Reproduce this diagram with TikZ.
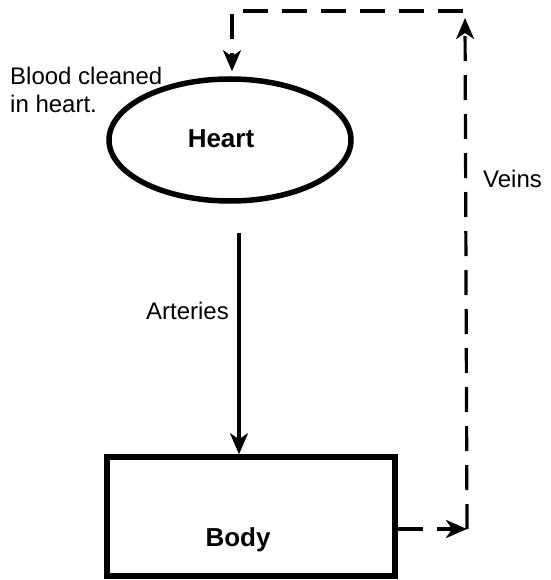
\documentclass[tikz,border=0pt]{standalone}
\usepackage{fontspec}
\setmainfont{Liberation Sans}
\usetikzlibrary{arrows.meta,shapes.geometric}
\begin{document}
\begin{tikzpicture}[x=1pt,y=-1pt,
  shapeline/.style={draw=black,line width=5.5pt,inner sep=0pt},
  conn/.style={draw=black,line width=3.2pt,-{Stealth[length=21pt,width=18pt,inset=6pt]}},
  dashconn/.style={conn,dash pattern=on 25pt off 14pt},
  reg/.style={font=\fontsize{24}{28}\selectfont,inner sep=0pt},
  boldlab/.style={font=\fontsize{26}{30}\selectfont\bfseries,inner sep=0pt}]
\useasboundingbox (0,0) rectangle (550,580);
\node[shapeline,ellipse,minimum width=242pt,minimum height=122pt] (heart) at (230,140) {};
\node[boldlab,anchor=base] (hearttext) at (221,148) {Heart};
\node[shapeline,rectangle,minimum width=288pt,minimum height=119pt] (body) at (251,516.5) {};
\node[boldlab,anchor=base] (bodytext) at (238,546) {Body};
\node[reg,anchor=base west] (blood1) at (10,85) {Blood cleaned};
\node[reg,anchor=base west] (blood2) at (10,113) {in heart.};
\node[reg,anchor=base east] (arteries) at (229,319) {Arteries};
\node[reg,anchor=base west] (veins) at (483,187) {Veins};
\coordinate (a1) at (239,233);
\coordinate (b1) at (398,529);
\coordinate (c1) at (467,529);
\coordinate (c2) at (465,18);
\coordinate (d1) at (463,11);
\coordinate (d2) at (232,11);
\draw[conn] (a1) -- (a1 |- body.north);
\draw[dashconn] (b1) -- (c1);
\draw[dashconn] (c1) -- (c2);
\draw[dashconn,shorten >=5pt] (d1) -- (d2) -- (d2 |- heart.north);
\end{tikzpicture}
\end{document}
